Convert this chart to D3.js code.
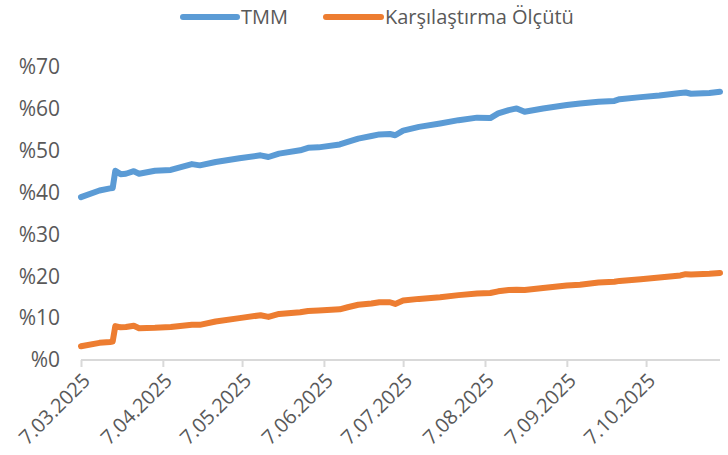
<!DOCTYPE html>
<html><head><meta charset="utf-8">
<script src="https://cdn.jsdelivr.net/npm/d3@7"></script>
<style>body{margin:0;background:#fff;}svg{display:block;font-family:"Open Sans",sans-serif;}</style>
</head><body><svg id="c" width="728" height="455"></svg>
<script>
const dates = ["2025-03-07","2025-03-14","2025-03-18","2025-03-19","2025-03-20","2025-03-22","2025-03-24","2025-03-27","2025-03-29","2025-04-04","2025-04-10","2025-04-18","2025-04-21","2025-04-27","2025-05-06","2025-05-14","2025-05-17","2025-05-21","2025-05-29","2025-06-01","2025-06-05","2025-06-13","2025-06-16","2025-06-20","2025-06-25","2025-06-28","2025-07-02","2025-07-04","2025-07-07","2025-07-13","2025-07-21","2025-07-28","2025-08-04","2025-08-09","2025-08-12","2025-08-16","2025-08-19","2025-08-22","2025-08-29","2025-09-07","2025-09-12","2025-09-19","2025-09-25","2025-09-27","2025-10-05","2025-10-12","2025-10-20","2025-10-22","2025-10-24","2025-10-31","2025-11-04"];
const tmm = [38.9,40.5,41.0,41.1,45.2,44.4,44.5,45.1,44.5,45.2,45.4,46.8,46.5,47.3,48.2,48.9,48.5,49.3,50.1,50.7,50.8,51.5,52.1,52.9,53.5,53.9,54.0,53.7,54.8,55.7,56.5,57.3,57.9,57.8,58.9,59.7,60.1,59.3,60.1,60.9,61.3,61.7,61.9,62.3,62.8,63.2,63.8,63.9,63.6,63.8,64.1];
const bench = [3.3,4.1,4.3,4.4,8.1,7.8,7.9,8.2,7.6,7.7,7.9,8.4,8.4,9.2,10.0,10.7,10.3,11.0,11.4,11.7,11.8,12.1,12.6,13.2,13.5,13.8,13.8,13.4,14.2,14.6,15.0,15.5,15.9,16.0,16.4,16.7,16.8,16.7,17.2,17.8,18.0,18.5,18.7,18.9,19.3,19.7,20.2,20.5,20.4,20.6,20.8];
const yTicks = [0,10,20,30,40,50,60,70];
const xTickLabels = ["7.03.2025","7.04.2025","7.05.2025","7.06.2025","7.07.2025","7.08.2025","7.09.2025","7.10.2025"];
const seriesNames = ["TMM","Karşılaştırma Ölçütü"];
const colors = ["#5B9BD5","#ED7D31"];

const parse = d3.timeParse("%Y-%m-%d");
const parseTick = d3.timeParse("%d.%m.%Y");
const svg = d3.select("#c");
const x = d3.scaleTime().domain([parse("2025-03-07"), parse("2025-11-04")]).range([81, 720]);
const y = d3.scaleLinear().domain([0,70]).range([360,67]);

// y labels
svg.append("g").selectAll("text").data(yTicks).join("text")
  .attr("x",60).attr("y",d=>y(d)).attr("dy","0.35em").attr("text-anchor","end")
  .attr("font-size",21).attr("fill","#595959").text(d=>"%"+d);

// x axis
const tickDates = xTickLabels.map(s=>parseTick(s));
const xAxis = d3.axisBottom(x).tickValues(tickDates).tickSize(7).tickSizeOuter(0).tickFormat((d,i)=>xTickLabels[i]);
const gx = svg.append("g").attr("transform","translate(0,360)").call(xAxis);
gx.select(".domain").attr("stroke","#D9D9D9").attr("stroke-width",2).attr("d","M81,0H720");
gx.selectAll(".tick line").attr("stroke","#D9D9D9").attr("stroke-width",2);
gx.selectAll(".tick text").attr("font-size",20).attr("fill","#595959").attr("font-family","Open Sans")
  .attr("text-anchor","end").attr("transform","translate(5,17) rotate(-45)").attr("dy","0.35em").attr("y",0).attr("x",0);

// lines
const pts = [tmm,bench].map(vals=>dates.map((d,i)=>({d:parse(d),v:vals[i]})));
const line = d3.line().x(p=>x(p.d)).y(p=>y(p.v));
pts.forEach((p,i)=>{
  svg.append("path").datum(p).attr("d",line).attr("fill","none").attr("stroke",colors[i])
    .attr("stroke-width",6).attr("stroke-linejoin","round").attr("stroke-linecap","round");
});

// legend
const leg = [{x1:183,x2:237,tx:241},{x1:326,x2:381,tx:385}];
leg.forEach((l,i)=>{
  svg.append("line").attr("x1",l.x1).attr("x2",l.x2).attr("y1",17).attr("y2",17)
    .attr("stroke",colors[i]).attr("stroke-width",6).attr("stroke-linecap","round");
  svg.append("text").attr("x",l.tx).attr("y",17).attr("dy","0.35em").attr("font-size",20)
    .attr("fill","#595959").text(seriesNames[i]);
});
</script></body></html>
